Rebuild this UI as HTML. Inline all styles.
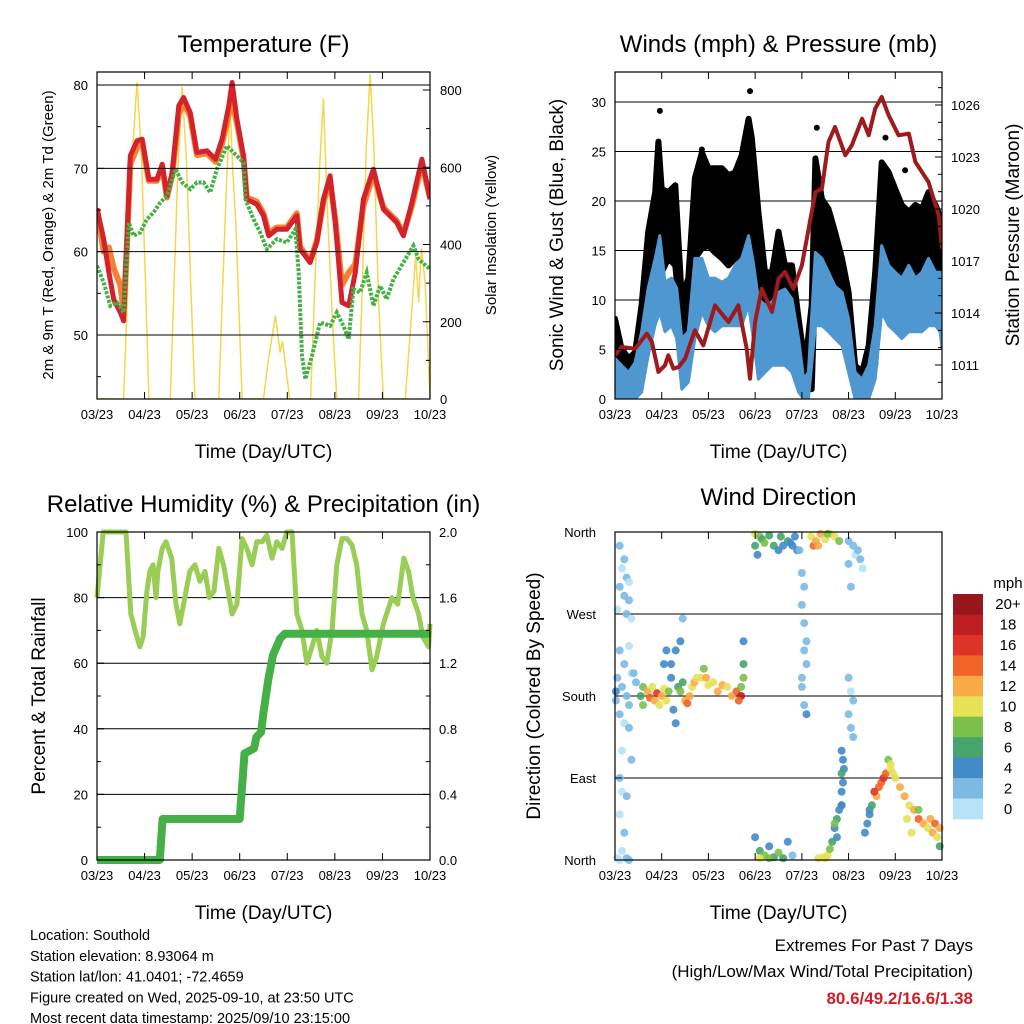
<!DOCTYPE html>
<html><head><meta charset="utf-8"><style>
html,body{margin:0;padding:0;background:#fff;}
svg{display:block;font-family:"Liberation Sans",sans-serif;}
</style></head><body>
<svg id="chart" width="1024" height="1024" viewBox="0 0 1024 1024" xmlns="http://www.w3.org/2000/svg">
<rect width="1024" height="1024" fill="#fff"/>
</svg>
<script>
// ---------- DATA ----------
const xTickLabels = ["03/23","04/23","05/23","06/23","07/23","08/23","09/23","10/23"];
// Temperature panel
const tempTimes = [0,.14,.25,.35,.49,.56,.63,.70,.84,.95,1.09,1.26,1.37,1.47,1.58,1.72,1.82,1.96,2.10,2.31,2.49,2.63,2.77,2.84,2.94,3.08,3.15,3.36,3.50,3.61,3.78,3.99,4.20,4.27,4.48,4.62,4.76,4.90,5.01,5.15,5.29,5.43,5.60,5.81,6.02,6.16,6.30,6.44,6.62,6.83,7.0];
const temp2m = [65.2,61.5,57.5,54.3,52.7,51.7,61.5,71.5,73.3,73.5,68.7,68.7,70.5,66.7,69.5,77.5,78.5,76.7,71.9,72.1,71.1,73.5,77.5,80.3,75.9,71.5,66.3,65.7,64.3,61.9,62.7,62.7,64.3,60.3,58.7,61.1,66.3,69.1,63.5,53.9,53.5,57.5,66.3,69.9,65.1,64.3,63.5,61.9,65.9,71.1,66.3];
const temp9m = [65.0,60.0,60.5,58.0,56.0,53.0,61.0,70.5,72.5,73.0,68.5,68.5,70.2,66.5,69.2,76.5,77.8,76.3,71.6,71.8,70.8,73.0,76.5,78.0,75.5,71.2,66.5,66.0,64.6,62.2,62.9,62.9,64.6,60.6,58.9,61.3,66.0,68.5,63.8,56.0,57.5,58.5,65.5,69.3,65.3,64.5,63.7,62.1,65.5,70.5,66.5];
const dewTimes = [0,.14,.28,.42,.56,.67,.77,.91,1.05,1.19,1.33,1.47,1.65,1.79,1.96,2.10,2.24,2.38,2.52,2.73,2.87,3.08,3.12,3.29,3.43,3.57,3.78,3.99,4.17,4.24,4.31,4.38,4.52,4.69,4.90,5.04,5.18,5.29,5.39,5.53,5.67,5.81,5.95,6.09,6.23,6.44,6.65,6.76,7.0];
const dew2m = [58.3,56.3,53.5,53.9,52.7,63.5,61.9,62.3,63.9,64.7,65.9,66.7,69.9,68.3,67.5,68.3,68.3,67.1,69.9,72.7,71.9,70.7,66.3,63.9,62.3,60.3,61.5,61.1,62.7,57.5,47.5,44.7,47.5,51.5,51.1,52.7,51.1,49.5,55.5,55.1,57.5,53.5,55.9,54.3,56.7,58.7,60.7,59.1,57.9];
const solarTimes = [0,.56,.65,.75,.84,.93,1.02,1.09,1.54,1.62,1.70,1.79,1.88,1.97,2.06,2.56,2.63,2.72,2.80,2.85,2.92,3.05,3.50,3.60,3.75,3.85,3.90,4.05,4.49,4.58,4.68,4.76,4.84,4.95,5.04,5.50,5.58,5.66,5.74,5.82,5.92,6.02,6.48,6.60,6.70,6.76,6.82,6.90,7.0];
const solarVals = [0,0,300,650,820,650,300,0,0,300,600,808,620,300,0,0,250,550,756,600,450,0,0,100,216,120,150,0,0,300,600,778,500,200,0,0,300,650,842,650,250,0,0,200,372,250,390,300,0];
// Winds panel
const windTimes = [0,.14,.29,.43,.57,.71,.86,.96,1.07,1.21,1.32,1.43,1.57,1.71,1.86,2.0,2.14,2.29,2.43,2.57,2.71,2.86,2.96,3.07,3.21,3.36,3.5,3.64,3.79,3.93,4.04,4.14,4.29,4.43,4.57,4.71,4.86,5.0,5.14,5.29,5.43,5.57,5.71,5.86,6.0,6.14,6.29,6.43,6.57,6.71,6.86,6.96,7.0];
const windHigh = [4.1,3.4,2.7,3.7,6.8,11.2,14.2,16.5,11.8,12.2,11.2,6.1,6.8,14.2,14.2,12.2,12.2,11.8,12.2,13.5,14.2,16.5,13.8,10.1,9.5,9.8,10.8,11.1,10.1,6.1,2.0,2.7,14.8,14.2,12.8,11.4,10.8,8.1,2.7,2.0,3.4,7.4,15.5,13.5,12.8,12.2,13.5,12.2,12.8,14.2,12.8,12.8,10.8];
const windLow = [0,0,0,0,0.7,4.4,7.5,8.8,6.8,7.4,6.1,1.0,1.7,6.1,8.8,7.4,6.8,7.4,7.4,7.4,7.4,9.5,6.1,2.0,2.7,3.4,3.4,3.4,2.7,0.7,0,0,7.4,7.4,6.8,6.1,5.4,2.7,0,0,0,2.0,8.8,7.4,6.8,6.1,6.8,6.8,6.8,7.4,7.4,6.8,5.1];
const gustTimes = [0,.14,.29,.43,.57,.71,.86,.93,1.0,1.14,1.29,1.43,1.57,1.71,1.86,2.0,2.14,2.29,2.43,2.57,2.71,2.86,2.93,3.07,3.21,3.36,3.5,3.64,3.79,3.93,4.07,4.21,4.29,4.43,4.57,4.71,4.86,5.0,5.14,5.29,5.43,5.57,5.71,5.86,6.0,6.14,6.29,6.43,6.57,6.71,6.86,7.0];
const gustHigh = [8.1,5.1,4.1,4.7,9.5,16.9,20.9,26.0,21.2,20.9,21.6,10.1,12.2,22.3,24.9,23.3,23.3,23.3,22.6,22.9,24.6,28.3,26.3,18.9,12.8,12.8,16.9,13.5,13.5,8.1,3.4,9.5,24.3,20.2,19.2,16.9,14.2,10.8,3.4,2.7,5.4,12.8,23.9,22.9,21.2,19.6,18.9,19.6,19.2,20.9,19.6,17.9];
const gustLow = [1.4,1.0,1.0,1.0,2.7,8.8,14.2,16.2,12.8,14.2,13.5,6.1,6.8,14.2,15.2,15.5,14.8,14.2,13.5,14.2,14.2,17.2,15.5,10.8,8.8,7.4,8.8,8.1,7.4,2.7,1.0,1.0,12.8,12.2,11.5,10.1,8.8,6.1,1.0,0.7,1.4,3.4,14.2,12.8,12.2,12.8,11.5,12.2,12.8,12.8,12.2,11.5];
const gustPeakTimes = [0.96,2.89,4.32,5.79,6.21,1.86];
const gustPeakVals = [29.1,31.1,27.4,26.4,23.1,25.2];
const pressTimes = [0,.14,.43,.68,.79,.93,1.07,1.14,1.25,1.36,1.5,1.71,1.89,2.14,2.43,2.64,2.82,2.89,3.0,3.14,3.36,3.5,3.64,3.82,4.0,4.29,4.43,4.57,4.71,4.93,5.07,5.29,5.43,5.57,5.71,5.86,6.07,6.29,6.43,6.71,6.93,7.0];
const pressVals = [1011.56,1012.04,1011.94,1012.81,1012.33,1010.6,1010.98,1011.56,1010.79,1010.88,1011.37,1013.0,1012.13,1014.44,1013.48,1014.44,1011.94,1010.21,1013.48,1015.4,1014.06,1015.98,1016.37,1015.4,1016.75,1020.98,1021.17,1023.87,1024.73,1023.1,1023.67,1025.21,1024.25,1025.79,1026.46,1025.4,1024.25,1024.35,1022.71,1021.56,1019.63,1017.71];
// RH / precip panel
const rhTimes = [0,.13,.21,.61,.65,.71,.80,.90,.97,1.05,1.11,1.18,1.24,1.28,1.37,1.45,1.57,1.66,1.74,1.82,1.95,2.06,2.16,2.27,2.36,2.46,2.56,2.66,2.72,2.84,2.94,3.05,3.15,3.26,3.36,3.47,3.57,3.68,3.78,3.89,3.99,4.10,4.20,4.31,4.41,4.52,4.62,4.73,4.83,4.94,5.04,5.15,5.25,5.36,5.46,5.57,5.67,5.78,5.88,6.02,6.20,6.32,6.45,6.55,6.64,6.76,6.85,6.97,7.0];
const rhVals = [80,100,100,100,90,75,70,65,68,82,88,90,80,88,95,97,92,78,72,78,88,90,85,88,80,82,95,90,85,75,78,98,95,90,97,97,99,92,97,95,100,100,75,70,60,65,70,62,60,70,90,98,98,96,90,75,70,58,62,72,80,78,92,88,80,75,68,65,72];
const precipTimes = [0,1.32,1.38,3.0,3.05,3.1,3.3,3.35,3.45,3.5,3.6,3.7,3.85,3.95,7];
const precipVals = [0,0,0.25,0.25,0.45,0.65,0.68,0.75,0.78,0.9,1.1,1.25,1.35,1.38,1.38];
// Wind direction panel
const dirTimes = [0.1,0.2,0.15,0.25,0.1,0.3,0.2,0.3,0.05,0.25,0.35,0.1,0.3,0.2,0.05,0.35,0.15,0.25,0.02,0.3,0.1,0.2,0.3,0.15,0.35,0.1,0.15,0.25,0.1,0.2,0.15,0.25,0.05,0.4,0.45,0.02,0.1,0.3,
0.55,0.6,0.6,0.7,0.75,0.8,0.85,0.9,0.95,1.0,1.05,1.1,1.15,1.2,1.25,1.3,1.2,1.3,1.35,1.4,1.45,1.5,1.55,1.6,1.65,1.7,1.75,1.85,1.9,1.95,2.0,2.1,2.2,2.3,2.4,2.5,2.6,2.7,2.65,2.7,2.75,2.75,2.75,1.4,1.1,1.05,1.45,
3.0,3.1,3.15,3.2,3.3,3.4,3.5,3.55,3.6,3.7,3.75,3.8,3.85,3.9,3.05,3.0,
3.95,4.0,4.05,4.0,4.05,4.1,4.05,4.1,4.0,4.05,4.1,4.0,
4.2,4.25,4.3,4.4,4.5,4.6,4.7,4.8,4.35,4.55,
5.0,5.1,5.15,5.2,5.25,5.3,5.0,5.05,
5.0,5.05,5.1,5.0,5.05,5.1,
4.85,4.88,4.9,4.85,4.88,4.85,4.85,
3.0,3.1,3.2,3.3,3.4,3.5,3.1,3.6,3.3,3.7,3.8,
4.35,4.45,4.55,4.6,4.65,4.7,4.75,4.8,4.85,4.7,4.75,4.5,
5.35,5.4,5.45,5.5,5.6,5.7,5.75,5.8,5.85,5.9,5.95,6.0,6.1,6.2,6.3,6.4,6.5,6.6,6.7,6.8,6.9,6.95,6.5,6.35,6.25,6.75,6.85,6.95,5.9,5.65,5.55,5.45];
const dirVals = [345,330,320,310,300,305,290,285,275,270,265,230,235,215,200,205,190,180,175,170,160,150,145,120,110,90,75,70,50,30,10,2,2,205,195,185,0,0,
180,190,170,185,178,190,175,183,170,180,188,175,185,200,165,150,215,230,190,185,195,175,172,180,190,195,200,200,210,200,192,195,185,192,190,180,185,180,175,190,200,215,240,240,230,215,265,
358,355,352,348,356,345,340,355,345,350,348,345,355,340,335,345,
340,315,300,280,260,240,230,215,200,170,160,190,
355,345,350,358,352,358,355,350,345,358,
350,345,335,340,330,320,325,300,
200,185,175,160,145,135,
120,110,100,95,85,75,60,
25,10,5,15,3,8,2,2,2,20,5,
2,3,5,12,20,35,45,55,60,40,25,2,
30,40,55,60,70,85,90,95,110,100,95,90,80,70,60,55,45,40,35,30,25,15,55,30,45,45,40,35,105,80,75,50];
const dirSpeeds = [1,1,0,1,1,0,1,1,0,1,0,1,0,1,1,0,1,1,2,1,1,0,1,0,1,1,0,1,0,1,0,1,0,1,2,3,0,1,
6,8,7,12,14,10,12,15,10,12,9,10,8,4,4,3,4,3,6,7,6,12,14,12,10,11,10,9,8,12,10,9,11,12,10,12,14,18,14,8,7,6,3,3,3,4,2,
9,8,6,7,6,5,4,6,4,5,4,3,4,4,4,6,
1,2,2,2,1,1,1,1,1,2,3,1,
10,14,12,12,10,9,10,8,11,8,
1,1,0,1,1,0,1,1,
1,0,1,2,2,1,
3,4,4,5,3,4,6,
4,6,7,4,6,8,10,6,8,3,2,
10,10,10,8,6,4,6,4,4,8,4,10,
4,4,4,6,12,14,16,14,8,10,10,10,12,12,10,12,14,12,10,12,10,6,8,10,9,12,14,12,10,14,16,4];
const speedBins = ["0","2","4","6","8","10","12","14","16","18","20+"];
const speedColors = ["#b5e2f7","#7cb9e4","#438ac8","#46a46c","#7bc04a","#e6e155","#f8aa47","#f06329","#dd3427","#bf1d24","#96161b"];

// ---------- HELPERS ----------
const svg = document.getElementById('chart');
const NS = 'http://www.w3.org/2000/svg';
function mk(tag, attrs, parent){ const e=document.createElementNS(NS,tag); for(const k in attrs) e.setAttribute(k,attrs[k]); (parent||svg).appendChild(e); return e; }
function txt(s,x,y,size,anchor,parent,extra){ const e=mk('text',Object.assign({x:x,y:y,'font-size':size,'text-anchor':anchor||'middle',fill:'#000'},extra||{}),parent); e.textContent=s; return e; }
function lin(d0,d1,r0,r1){ return v => r0+(v-d0)*(r1-r0)/(d1-d0); }
function pathFrom(ts,vs,sx,sy){ return ts.map((t,i)=>(i?'L':'M')+sx(t).toFixed(1)+','+sy(vs[i]).toFixed(1)).join(''); }

function frame(g,x0,y0,w,h){
  const r=mk('rect',{x:x0,y:y0,width:w,height:h,fill:'none',stroke:'#000','stroke-width':1.2},g);
  
  
}
function xAxis(g,x0,y0,w,h){
  const sx=lin(0,7,x0,x0+w);
  xTickLabels.forEach((lab,i)=>{
    const x=sx(i);
    mk('line',{x1:x,y1:y0+h,x2:x,y2:y0+h-7,stroke:'#000','stroke-width':1},g);
    mk('line',{x1:x,y1:y0,x2:x,y2:y0+7,stroke:'#000','stroke-width':1},g);
    const t=txt(lab,x,y0+h+20,13,'middle',g);
    
    
  });
  const tt=txt('Time (Day/UTC)',x0+w/2,y0+h+59,19,'middle',g);
  
  
  return sx;
}
function yTicks(g,vals,sy,x,dir,labels,lx,anchor,grid,x0,w,minor){
  vals.forEach((v,i)=>{
    const y=sy(v);
    if(grid){ const gl=mk('line',{x1:x0,y1:y,x2:x0+w,y2:y,stroke:'#000','stroke-width':1},g);
        }
    mk('line',{x1:x,y1:y,x2:x+dir*7,y2:y,stroke:'#000','stroke-width':1},g);
    if(labels){ const t=txt(labels[i],lx,y+5,13,anchor,g);
        }
  });
  (minor||[]).forEach(v=>{ const y=sy(v); mk('line',{x1:x,y1:y,x2:x+dir*4,y2:y,stroke:'#000','stroke-width':1},g); });
}
function rotText(s,x,y,size,g,name){
  const t=txt(s,x,y,size,'middle',g,{transform:'rotate(-90 '+x+' '+y+')'});
    return t;
}
function clip(id,x,y,w,h){ const c=mk('clipPath',{id:id}); mk('rect',{x:x,y:y,width:w,height:h},c); }

// ---------- PANEL 1: TEMPERATURE ----------
(function(){
  const g=mk('g',{});  
  const x0=97,y0=72,w=333,h=327;
  clip('c1',x0,y0,w,h);
  const sx=lin(0,7,x0,x0+w), sy=lin(50,80,335,85), sr=lin(0,800,399,90);
  const sol=mk('path',{d:pathFrom(solarTimes,solarVals,sx,sr),fill:'none',stroke:'#f6d64a','stroke-width':1.5,'clip-path':'url(#c1)'},g);
   
  const o=mk('path',{d:pathFrom(tempTimes,temp9m,sx,sy),fill:'none',stroke:'#f58132','stroke-width':6,'stroke-linejoin':'round','clip-path':'url(#c1)'},g);
   
  const r=mk('path',{d:pathFrom(tempTimes,temp2m,sx,sy),fill:'none',stroke:'#d3222a','stroke-width':5,'stroke-linejoin':'round','clip-path':'url(#c1)'},g);
   
  const d=mk('path',{d:pathFrom(dewTimes,dew2m,sx,sy),fill:'none',stroke:'#44b045','stroke-width':4,'stroke-dasharray':'3 1.5','clip-path':'url(#c1)'},g);
   
  yTicks(g,[50,60,70,80],sy,x0,1,['50','60','70','80'],x0-9,'end',true,x0,w,[45,55,65,75]);
  yTicks(g,[0,200,400,600,800],sr,x0+w,-1,['0','200','400','600','800'],x0+w+10,'start',false,x0,w,[100,300,500,700]);
  frame(g,x0,y0,w,h); xAxis(g,x0,y0,w,h);
  const ti=txt('Temperature (F)',x0+w/2,52,24,'middle',g);  
  rotText('2m & 9m T (Red, Orange) & 2m Td (Green)',53,235,15,g,'temperature-y-axis-title');
  rotText('Solar Insolation (Yellow)',496,235,15,g,'solar-y-axis-title');
})();

// ---------- PANEL 2: WINDS ----------
(function(){
  const g=mk('g',{});  
  const x0=615,y0=72,w=327,h=327;
  clip('c2',x0,y0,w,h);
  const sx=lin(0,7,x0,x0+w), sy=lin(0,30,399,102), sp=lin(1011,1026,365,105);
  yTicks(g,[5,10,15,20,25,30],sy,x0,1,null,0,'end',true,x0,w,[]);
  const gd='M'+gustTimes.map((t,i)=>sx(t).toFixed(1)+','+sy(gustHigh[i]).toFixed(1)).join('L')+'L'+gustTimes.slice().reverse().map((t,i)=>{const j=gustTimes.length-1-i;return sx(t).toFixed(1)+','+sy(gustLow[j]).toFixed(1);}).join('L')+'Z';
  const gp=mk('path',{d:gd,fill:'#000',stroke:'#000','stroke-width':6,'stroke-linejoin':'round','clip-path':'url(#c2)'},g);
   
  gustPeakTimes.forEach((t,i)=>{ const c=mk('circle',{cx:sx(t),cy:sy(gustPeakVals[i]),r:3,fill:'#000'},g);
      });
  const wd='M'+windTimes.map((t,i)=>sx(t).toFixed(1)+','+sy(windHigh[i]).toFixed(1)).join('L')+'L'+windTimes.slice().reverse().map((t,i)=>{const j=windTimes.length-1-i;return sx(t).toFixed(1)+','+sy(windLow[j]).toFixed(1);}).join('L')+'Z';
  const wp=mk('path',{d:wd,fill:'#4f97d1',stroke:'#4f97d1','stroke-width':3,'stroke-linejoin':'round','clip-path':'url(#c2)'},g);
   
  const pl=mk('path',{d:pathFrom(pressTimes,pressVals,sx,sp),fill:'none',stroke:'#9e1a1d','stroke-width':4,'stroke-linejoin':'round','clip-path':'url(#c2)'},g);
   
  yTicks(g,[0,5,10,15,20,25,30],sy,x0,1,['0','5','10','15','20','25','30'],x0-9,'end',false,x0,w,[]);
  yTicks(g,[1011,1014,1017,1020,1023,1026],sp,x0+w,-1,['1011','1014','1017','1020','1023','1026'],x0+w+9,'start',false,x0,w,[1010,1012,1013,1015,1016,1018,1019,1021,1022,1024,1025,1027]);
  frame(g,x0,y0,w,h); xAxis(g,x0,y0,w,h);
  const ti=txt('Winds (mph) & Pressure (mb)',x0+w/2,52,24,'middle',g);  
  rotText('Sonic Wind & Gust (Blue, Black)',563,235,19,g,'wind-y-axis-title');
  rotText('Station Pressure (Maroon)',1019,235,19,g,'pressure-y-axis-title');
})();

// ---------- PANEL 3: RH & PRECIP ----------
(function(){
  const g=mk('g',{});  
  const x0=97,y0=532,w=333,h=328;
  clip('c3',x0-4,y0-4,w+8,h+8);
  const sx=lin(0,7,x0,x0+w), sy=lin(0,100,860,532), sr=lin(0,2,860,532);
  yTicks(g,[20,40,60,80],sy,x0,1,null,0,'end',true,x0,w,[]);
  const rh=mk('path',{d:pathFrom(rhTimes,rhVals,sx,sy),fill:'none',stroke:'#9acd55','stroke-width':5,'stroke-linejoin':'round','clip-path':'url(#c3)'},g);
   
  const pr=mk('path',{d:pathFrom(precipTimes,precipVals,sx,sr),fill:'none',stroke:'#45b046','stroke-width':8,'stroke-linejoin':'round','clip-path':'url(#c3)'},g);
   
  yTicks(g,[0,20,40,60,80,100],sy,x0,1,['0','20','40','60','80','100'],x0-9,'end',false,x0,w,[10,30,50,70,90]);
  yTicks(g,[0,0.4,0.8,1.2,1.6,2.0],sr,x0+w,-1,['0.0','0.4','0.8','1.2','1.6','2.0'],x0+w+9,'start',false,x0,w,[0.2,0.6,1.0,1.4,1.8]);
  frame(g,x0,y0,w,h); xAxis(g,x0,y0,w,h);
  const ti=txt('Relative Humidity (%) & Precipitation (in)',x0+w/2,512,24,'middle',g);  
  rotText('Percent & Total Rainfall',45,696,19,g,'humidity-y-axis-title');
})();

// ---------- PANEL 4: WIND DIRECTION ----------
(function(){
  const g=mk('g',{});  
  const x0=615,y0=532,w=327,h=328;
  clip('c4',x0-4,y0-4,w+8,h+8);
  const sx=lin(0,7,x0,x0+w), sy=lin(0,360,860,532);
  yTicks(g,[90,180,270],sy,x0,1,null,0,'end',true,x0,w,[]);
  const pts=mk('g',{'clip-path':'url(#c4)'},g);
   
  dirTimes.forEach((t,i)=>{
    const s=dirSpeeds[i]; const bin=Math.min(10,Math.round(s/2));
    const c=mk('circle',{cx:sx(t).toFixed(1),cy:sy(dirVals[i]).toFixed(1),r:4,fill:speedColors[bin],'fill-opacity':0.9},pts);
    
    
  });
  const dl=['North','East','South','West','North'];
  yTicks(g,[0,90,180,270,360],sy,x0,1,dl,x0-19,'end',false,x0,w,[]);
  yTicks(g,[0,90,180,270,360],sy,x0+w,-1,null,0,'end',false,x0,w,[]);
  frame(g,x0,y0,w,h); xAxis(g,x0,y0,w,h);
  const ti=txt('Wind Direction',x0+w/2,505,24,'middle',g);  
  rotText('Direction (Colored By Speed)',540,696,19,g,'direction-y-axis-title');
  const cb=mk('g',{});  
  const bh=(819-594)/11;
  speedBins.forEach((lab,i)=>{
    const k=10-i; const y=594+i*bh;
    const r=mk('rect',{x:953,y:y.toFixed(1),width:30,height:(bh+0.3).toFixed(1),fill:speedColors[k]},cb);
     
    const t=txt(speedBins[k],1008,y+bh/2+5,15,'middle',cb);
     
  });
  const u=txt('mph',1008,588,15,'middle',cb);  
})();

// ---------- FOOTER ----------
const info=["Location: Southold","Station elevation: 8.93064 m","Station lat/lon: 41.0401; -72.4659","Figure created on Wed, 2025-09-10, at 23:50 UTC","Most recent data timestamp: 2025/09/10 23:15:00"];
info.forEach((s,i)=>{ const t=txt(s,30,940+i*20.8,14.5,'start');
    });
const e1=txt('Extremes For Past 7 Days',973,951,17,'end');  
const e2=txt('(High/Low/Max Wind/Total Precipitation)',973,977,17,'end');  
const e3=txt('80.6/49.2/16.6/1.38',973,1004,17,'end',null,{fill:'#cc2229','font-weight':'bold'});  
</script>
</body></html>
